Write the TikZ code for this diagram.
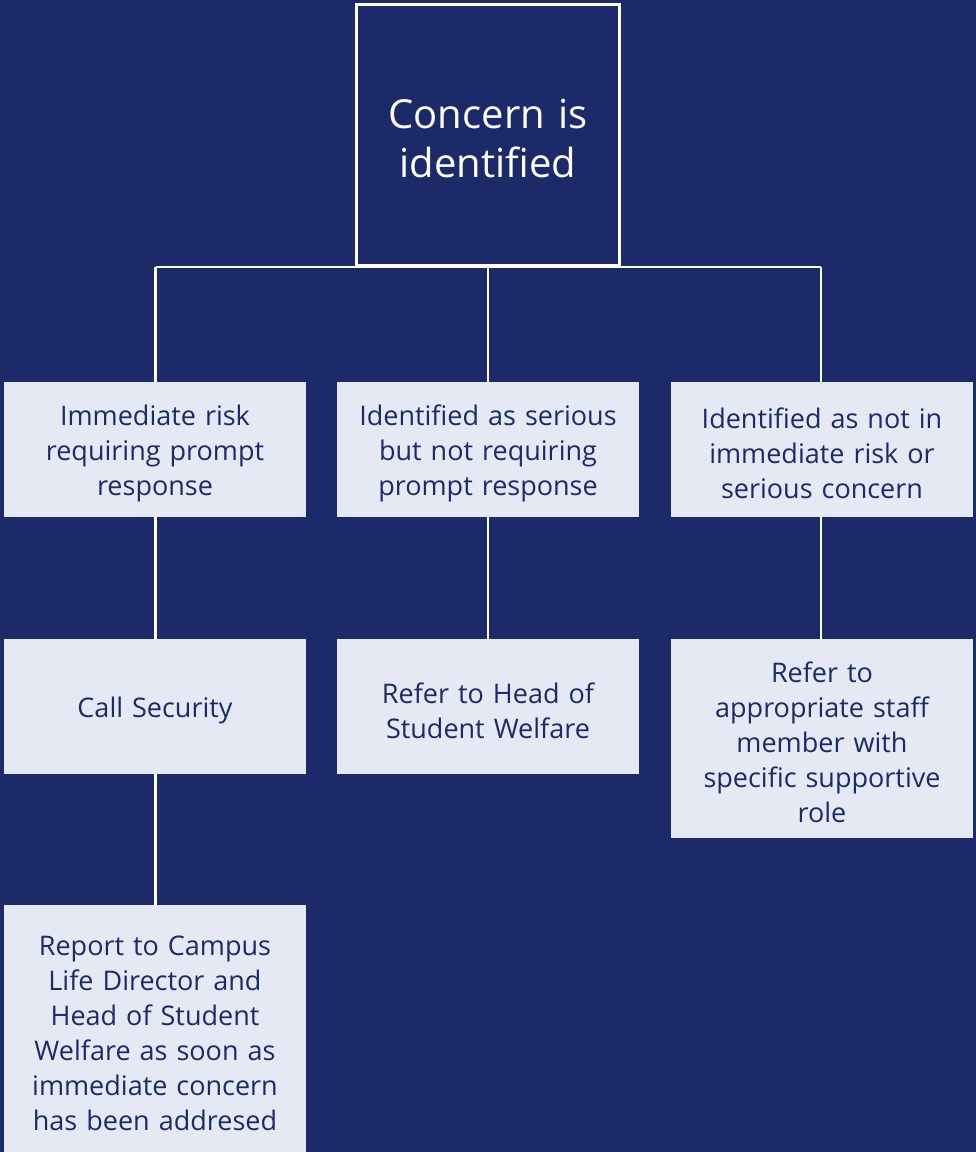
\documentclass[tikz,border=0pt]{standalone}
\usepackage{fontspec}
\setmainfont{Open Sans}
\usetikzlibrary{positioning}
\definecolor{navy}{RGB}{28,42,106}
\definecolor{pale}{RGB}{229,233,244}
\begin{document}
\begin{tikzpicture}[x=1pt,y=-1pt,
  box/.style={rectangle,fill=pale,text=navy,draw=none,minimum width=302pt,
    text width=300pt,align=center,inner sep=0pt,
    font=\fontsize{27}{35}\selectfont,
    execute at begin node={\rule{0pt}{29pt}}},
  topbox/.style={rectangle,draw=white,line width=3pt,fill=navy,text=white,
    minimum width=263pt,minimum height=261pt,text width=250pt,align=center,
    inner sep=0pt,font=\fontsize{40}{49}\selectfont,
    execute at begin node={\rule{0pt}{37pt}}},
  link/.style={draw=white,line width=2.5pt}]
\fill[navy] (0,0) rectangle (976,1152);
\useasboundingbox (0,0) rectangle (976,1152);
\node[topbox] (top) at (488,134.5) {Concern is\\identified};
\node[box,minimum height=135pt] (b1) at (155,449.5) {Immediate risk\\requiring prompt\\response};
\node[box,minimum height=135pt] (b2) at (488,449.5) {Identified as serious\\but not requiring\\prompt response};
\node[box,minimum height=135pt] (b3) at (822,449.5) {Identified as not in\\immediate risk or\\serious concern};
\node[box,minimum height=135pt] (b4) at (155,706.5) {Call Security};
\node[box,minimum height=135pt] (b5) at (488,706.5) {Refer to Head of\\Student Welfare};
\node[box,minimum height=199pt] (b6) at (822,738.5) {Refer to\\appropriate staff\\member with\\specific supportive\\role};
\node[box,minimum height=248pt] (b7) at (155,1029) {Report to Campus\\Life Director and\\Head of Student\\Welfare as soon as\\immediate concern\\has been addresed};
\coordinate (hl) at (155.5,267);
\coordinate (hr) at (821,267);
\draw[link] (hl) -- (hr);
\draw[link] (top.south) -- (b2.north);
\draw[link] (hl) -- (hl |- b1.north);
\draw[link] (hr) -- (hr |- b3.north);
\draw[link] (hl |- b1.south) -- (hl |- b4.north);
\draw[link] (b2.south) -- (b5.north);
\draw[link] (hr |- b3.south) -- (hr |- b6.north);
\draw[link] (hl |- b4.south) -- (hl |- b7.north);
\end{tikzpicture}
\end{document}
